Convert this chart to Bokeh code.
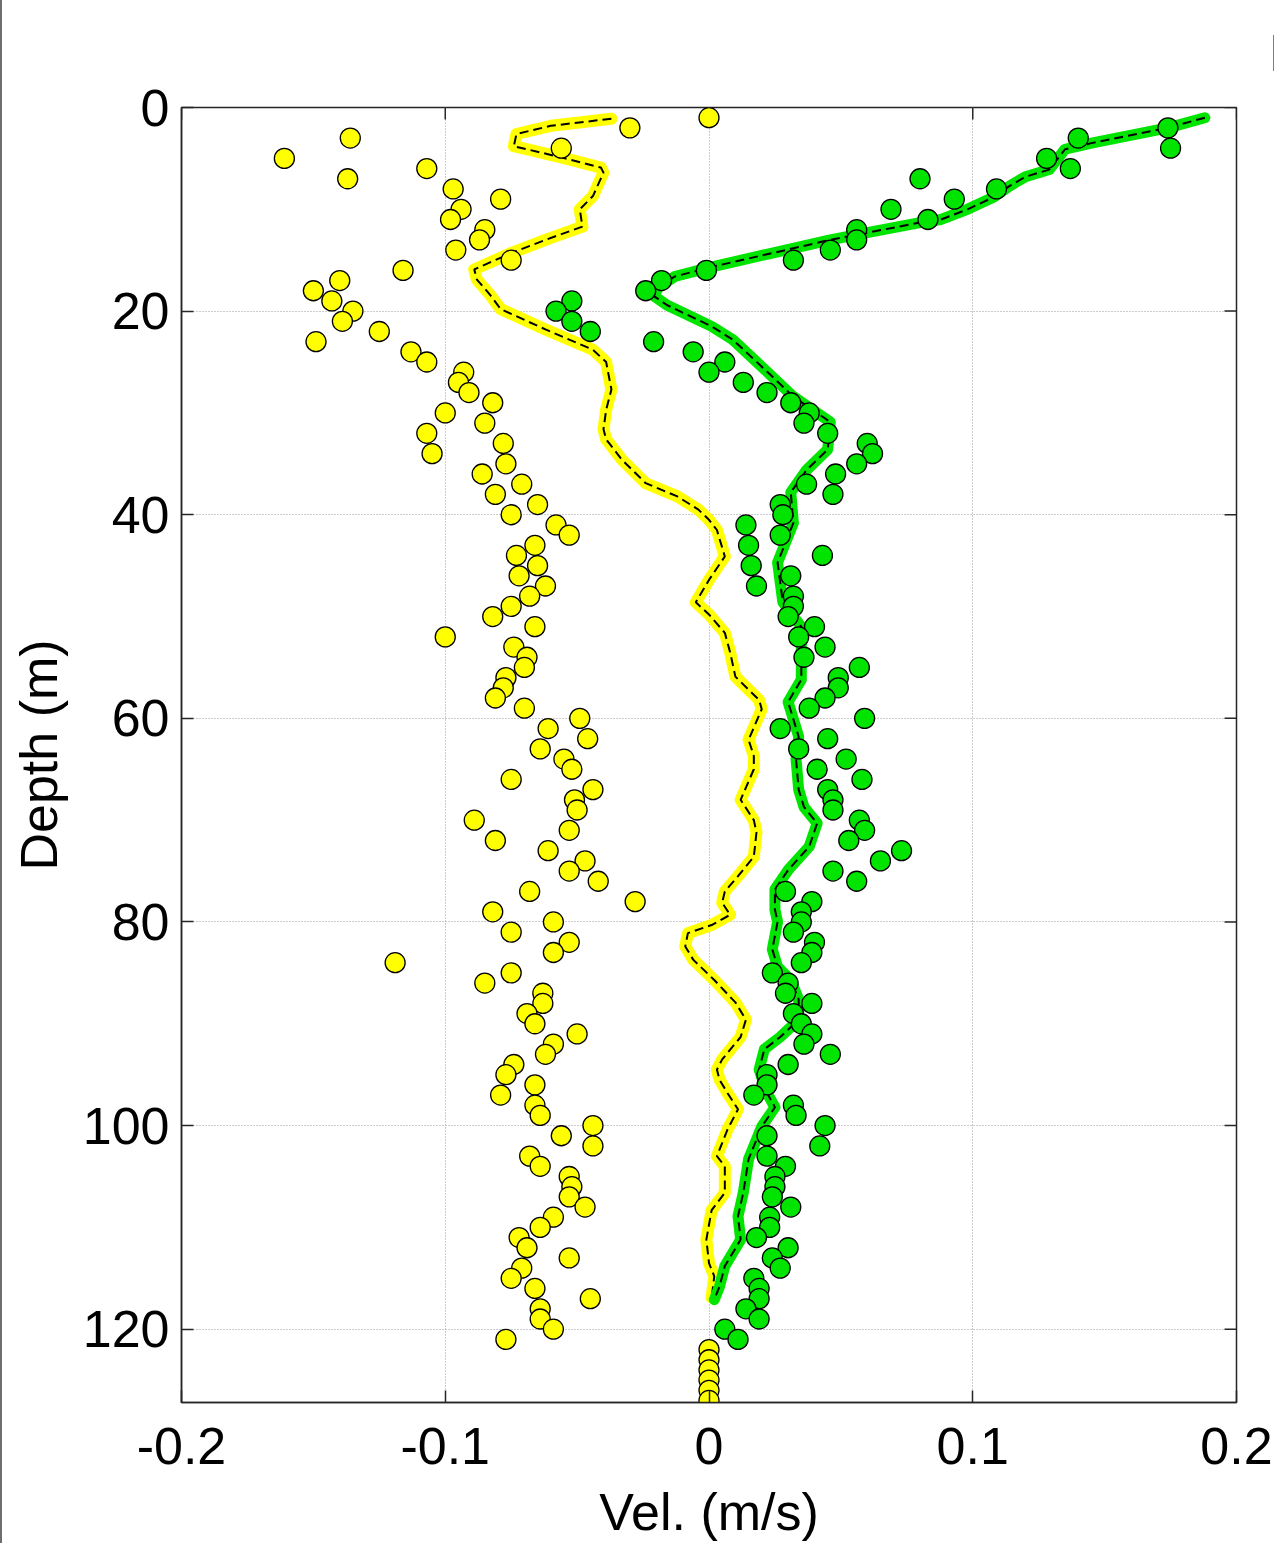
from bokeh.plotting import figure
from bokeh.models import Range1d, FixedTicker, Title
from bokeh.embed import file_html
from bokeh.resources import INLINE

# Velocity profiles vs depth (m): yellow = one component, green = the other
yellow_depth = list(range(1, 128))
yellow_vel = [
    0.000, -0.030, -0.136, -0.056, -0.161, -0.107, -0.137, -0.097, -0.079, -0.094,
    -0.098, -0.085, -0.087, -0.096, -0.075, -0.116, -0.140, -0.150, -0.143, -0.135,
    -0.139, -0.125, -0.149, -0.113, -0.107, -0.093, -0.095, -0.091, -0.082, -0.100,
    -0.085, -0.107, -0.078, -0.105, -0.077, -0.086, -0.071, -0.081, -0.065, -0.075,
    -0.058, -0.053, -0.066, -0.073, -0.065, -0.072, -0.062, -0.068, -0.075, -0.082,
    -0.066, -0.100, -0.074, -0.069, -0.070, -0.077, -0.078, -0.081, -0.070, -0.049,
    -0.061, -0.046, -0.064, -0.055, -0.052, -0.075, -0.044, -0.051, -0.050, -0.089,
    -0.053, -0.081, -0.061, -0.047, -0.053, -0.042, -0.068, -0.028, -0.082, -0.059,
    -0.075, -0.053, -0.059, -0.119, -0.075, -0.085, -0.063, -0.063, -0.069, -0.066,
    -0.050, -0.059, -0.062, -0.074, -0.077, -0.066, -0.079, -0.066, -0.064, -0.044,
    -0.056, -0.044, -0.068, -0.064, -0.053, -0.052, -0.053, -0.047, -0.059, -0.064,
    -0.072, -0.069, -0.053, -0.071, -0.075, -0.066, -0.045, -0.064, -0.064, -0.059,
    -0.077, 0.000, 0.000, 0.000, 0.000, 0.000, 0.000,
]

green_depth = list(range(2, 122))
green_vel = [
    0.174, 0.140, 0.175, 0.128, 0.137, 0.080, 0.109, 0.093, 0.069, 0.083,
    0.056, 0.056, 0.046, 0.032, -0.001, -0.018, -0.024, -0.052, -0.058, -0.052,
    -0.045, -0.021, -0.006, 0.006, 0.000, 0.013, 0.022, 0.031, 0.038, 0.036,
    0.045, 0.060, 0.062, 0.056, 0.048, 0.037, 0.047, 0.027, 0.028, 0.014,
    0.027, 0.015, 0.043, 0.016, 0.031, 0.018, 0.032, 0.032, 0.030, 0.040,
    0.034, 0.044, 0.036, 0.057, 0.049, 0.049, 0.044, 0.038, 0.059, 0.027,
    0.045, 0.034, 0.052, 0.041, 0.058, 0.045, 0.047, 0.047, 0.057, 0.059,
    0.053, 0.073, 0.065, 0.047, 0.056, 0.029, 0.039, 0.035, 0.035, 0.032,
    0.040, 0.039, 0.035, 0.024, 0.030, 0.029, 0.039, 0.032, 0.035, 0.039,
    0.036, 0.046, 0.030, 0.022, 0.022, 0.017, 0.032, 0.033, 0.044, 0.022,
    0.042, 0.022, 0.029, 0.025, 0.025, 0.024, 0.031, 0.023, 0.023, 0.018,
    0.030, 0.024, 0.027, 0.017, 0.019, 0.019, 0.014, 0.019, 0.006, 0.011,
]

# Smoothed profiles
yellow_fit_vel = [
    -0.037, -0.060, -0.073, -0.074, -0.056, -0.041, -0.040, -0.044, -0.049, -0.048,
    -0.062, -0.075, -0.089, -0.088, -0.083, -0.079, -0.062, -0.044, -0.039, -0.037,
    -0.039, -0.040, -0.039, -0.033, -0.024, -0.012, -0.004, 0.000, 0.003, 0.006,
    0.000, -0.005, 0.000, 0.006, 0.008, 0.010, 0.019, 0.020, 0.015, 0.017,
    0.017, 0.012, 0.017, 0.018, 0.017, 0.011, 0.006, 0.005, 0.008, 0.001,
    -0.008, -0.009, -0.006, 0.002, 0.010, 0.014, 0.012, 0.005, 0.003, 0.004,
    0.007, 0.011, 0.007, 0.003, 0.006, 0.006, 0.001, -0.001, 0.000, 0.002, 0.001,
]
yellow_fit_depth = [
    1.1, 1.8, 2.6, 3.8, 4.9, 5.9, 6.4, 8.7, 10.0, 11.7,
    13.0, 14.3, 15.9, 16.9, 18.4, 19.8, 21.8, 23.8, 25.0, 27.7,
    29.7, 31.6, 32.6, 34.6, 36.9, 38.2, 39.5, 40.5, 41.5, 44.1,
    46.4, 48.6, 49.8, 51.6, 53.5, 55.9, 58.2, 59.1, 62.1, 63.7,
    65.0, 68.0, 70.0, 71.2, 73.6, 75.5, 77.0, 78.1, 79.3, 80.3,
    81.1, 82.4, 83.7, 85.7, 87.9, 89.6, 91.3, 93.5, 94.5, 95.5,
    96.8, 98.4, 100.4, 103.0, 104.0, 106.6, 108.3, 111.2, 113.5, 114.8, 116.9,
]

green_fit_vel = [
    0.188, 0.174, 0.145, 0.135, 0.129, 0.120, 0.114, 0.108, 0.098, 0.088,
    0.080, 0.060, 0.046, 0.024, 0.002, -0.013, -0.019, -0.021, -0.016, 0.001,
    0.009, 0.021, 0.032, 0.046, 0.045, 0.037, 0.031, 0.032, 0.026, 0.028,
    0.035, 0.035, 0.035, 0.030, 0.034, 0.033, 0.034, 0.036, 0.041, 0.038,
    0.030, 0.025, 0.025, 0.026, 0.024, 0.026, 0.031, 0.034, 0.034, 0.027,
    0.021, 0.019, 0.022, 0.025, 0.020, 0.015, 0.013, 0.011, 0.012, 0.006,
    0.004, 0.002,
]
green_fit_depth = [
    1.0, 2.0, 3.5, 4.1, 6.1, 6.8, 7.7, 8.8, 10.0, 11.0,
    11.3, 12.3, 13.0, 14.3, 15.6, 16.6, 17.6, 18.5, 19.4, 21.5,
    22.8, 25.7, 28.4, 30.9, 33.6, 35.6, 37.8, 40.8, 44.7, 48.6,
    51.0, 53.5, 56.2, 58.4, 61.8, 64.0, 67.0, 68.7, 70.3, 72.6,
    74.9, 76.8, 78.8, 80.0, 82.7, 84.4, 85.7, 87.6, 89.6, 91.3,
    92.5, 94.5, 96.8, 98.2, 100.1, 103.3, 106.6, 108.9, 111.2, 113.8,
    115.8, 117.1,
]

x_ticks = [-0.2, -0.1, 0, 0.1, 0.2]
x_tick_labels = ["-0.2", "-0.1", "0", "0.1", "0.2"]
y_ticks = [0, 20, 40, 60, 80, 100, 120]

X_MIN, X_MAX = -0.2, 0.2
D_TOP, D_BOTTOM = 0.0, 127.2

YELLOW = "#ffff00"
GREEN = "#00e400"
INK = "#262626"
FONT = "Liberation Sans"

FRAME_LEFT, FRAME_RIGHT, FRAME_TOP, FRAME_BOTTOM = 181, 1236, 107, 1402
TICK_PX = 12

p = figure(
    width=1274, height=1543,
    x_range=Range1d(X_MIN, X_MAX), y_range=Range1d(D_BOTTOM, D_TOP),
    output_backend="svg", toolbar_location=None,
    min_border_left=FRAME_LEFT - 2, min_border_right=1276 - FRAME_RIGHT,
    min_border_top=FRAME_TOP, min_border_bottom=1543 - FRAME_BOTTOM,
    background_fill_color="white", border_fill_color="white",
)
p.styles = {"border-left": "2px solid #6e6e6e"}

xt = FixedTicker(ticks=x_ticks)
yt = FixedTicker(ticks=y_ticks)
p.xaxis.ticker = xt
p.yaxis.ticker = yt
p.xgrid.ticker = xt
p.ygrid.ticker = yt
p.xaxis.major_label_overrides = dict(zip(x_ticks, x_tick_labels))

for ax in (p.xaxis, p.yaxis):
    ax.major_tick_in = TICK_PX
    ax.major_tick_out = 0
    ax.minor_tick_line_color = None
    ax.axis_line_color = INK
    ax.axis_line_width = 1.5
    ax.major_tick_line_color = INK
    ax.major_tick_line_width = 1.5
    ax.major_label_text_font = FONT
    ax.major_label_text_font_size = "52px"
    ax.major_label_text_color = "black"
    ax.axis_label_text_font = FONT
    ax.axis_label_text_font_size = "52px"
    ax.axis_label_text_font_style = "normal"
    ax.axis_label_text_color = "black"

p.xaxis.axis_label = "Vel. (m/s)"
p.yaxis.axis_label = "Depth (m)"
p.xaxis.major_label_standoff = 25
p.yaxis.major_label_standoff = 12
p.xaxis.axis_label_standoff = 16
p.yaxis.axis_label_standoff = 12

p.grid.grid_line_color = "#999999"
p.grid.grid_line_dash = "1 2"
p.grid.grid_line_width = 1
p.outline_line_color = INK
p.outline_line_width = 1.5

# Inward ticks on the top and right edges of the box
units_per_px_x = (X_MAX - X_MIN) / (FRAME_RIGHT - FRAME_LEFT)
units_per_px_y = (D_BOTTOM - D_TOP) / (FRAME_BOTTOM - FRAME_TOP)
p.segment(x0=x_ticks, y0=[D_TOP] * len(x_ticks), x1=x_ticks,
          y1=[D_TOP + TICK_PX * units_per_px_y] * len(x_ticks),
          line_color=INK, line_width=1.5)
p.segment(x0=[X_MAX] * len(y_ticks), y0=y_ticks,
          x1=[X_MAX - TICK_PX * units_per_px_x] * len(y_ticks), y1=y_ticks,
          line_color=INK, line_width=1.5)

# Smoothed profiles: thick coloured band with a dashed black core
p.line(yellow_fit_vel, yellow_fit_depth, line_color=YELLOW, line_width=12, line_join="round", line_cap="round")
p.line(yellow_fit_vel, yellow_fit_depth, line_color="black", line_width=2, line_dash="9 5")
p.line(green_fit_vel, green_fit_depth, line_color=GREEN, line_width=11, line_join="round", line_cap="round")
p.line(green_fit_vel, green_fit_depth, line_color="black", line_width=2, line_dash="9 5")

# Individual bin velocities
p.scatter(yellow_vel, yellow_depth, size=20, fill_color=YELLOW, line_color="black", line_width=1.3)
p.scatter(green_vel, green_depth, size=20, fill_color=GREEN, line_color="black", line_width=1.3)

# Panel letter of the neighbouring figure, cut by the right edge
p.add_layout(Title(text="D", align="right", vertical_align="top", offset=-71, standoff=47,
                   text_font=FONT, text_font_size="52px", text_font_style="bold",
                   text_color="black"), "above")

open("out.html", "w").write(file_html(p, INLINE))
